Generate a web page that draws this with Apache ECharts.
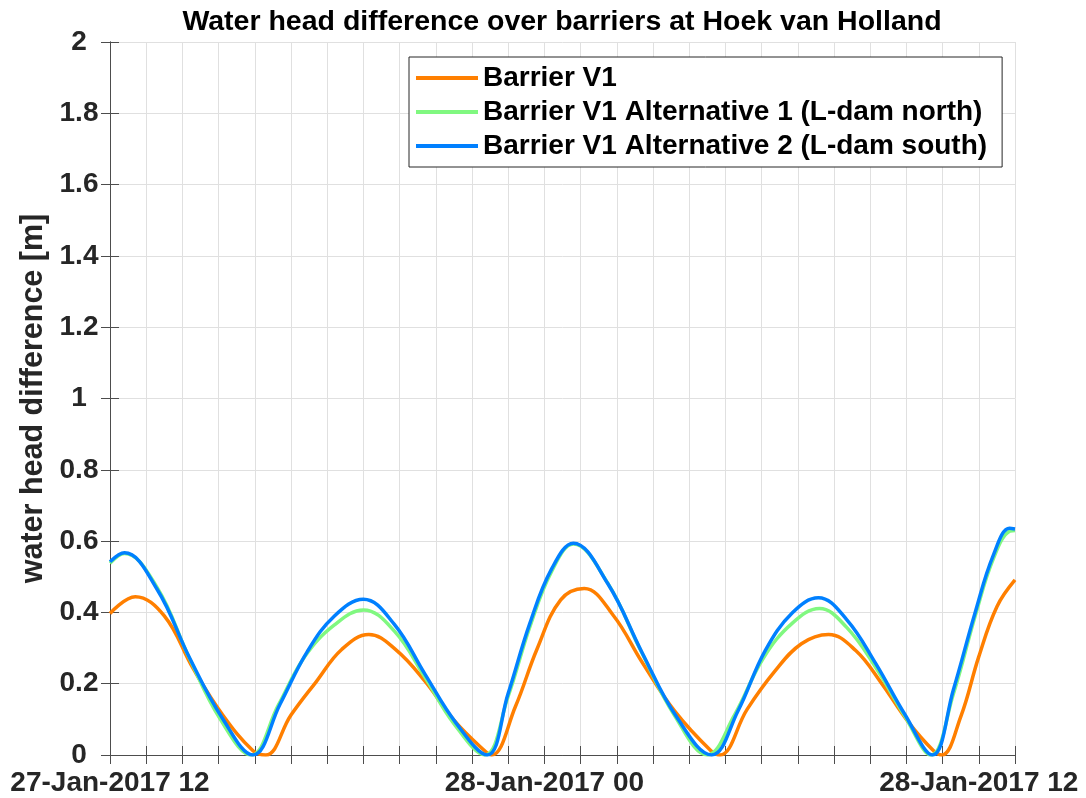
<!DOCTYPE html>
<html>
<head>
<meta charset="utf-8">
<script src="https://cdn.jsdelivr.net/npm/echarts@6/dist/echarts.min.js"></script>
<style>
  html, body { margin: 0; padding: 0; background: #fff; }
  #chart { width: 1086px; height: 798px; }
</style>
</head>
<body>
<div id="chart"></div>
<script>
// hours after 27-Jan-2017 12:00
const tickLabels = { 0: "27-Jan-2017 12", 12: "28-Jan-2017 00", 24: "28-Jan-2017 12" };
const seriesNames = [
  "Barrier V1",
  "Barrier V1 Alternative 1 (L-dam north)",
  "Barrier V1 Alternative 2 (L-dam south)"
];

const timesV1 = [0, 0.7, 1.5, 2.3, 3.1, 3.95, 4.3, 5.0, 5.7, 6.4, 7.15, 7.9, 8.7, 9.5, 10.35, 10.55, 11.2, 11.8, 12.45, 13.1, 13.9, 14.7, 15.6, 16.6, 16.85, 17.6, 18.35, 19.1, 19.85, 20.6, 21.3, 22.05, 22.75, 22.98, 23.5, 24, 24.5, 25];
const valuesV1 = [0.397, 0.444, 0.39, 0.242, 0.114, 0.012, 0, 0.112, 0.206, 0.296, 0.338, 0.295, 0.207, 0.098, 0.012, 0, 0.136, 0.298, 0.435, 0.467, 0.392, 0.26, 0.123, 0.012, 0, 0.128, 0.233, 0.312, 0.338, 0.293, 0.203, 0.093, 0.012, 0, 0.107, 0.276, 0.416, 0.491];

const timesAlt1 = [0, 0.4, 1.3, 2.2, 3.05, 3.9, 4.65, 5.4, 6.2, 7.0, 7.85, 8.7, 9.5, 10.35, 11.0, 11.6, 12.2, 12.8, 13.75, 14.65, 15.6, 16.5, 17.25, 18.05, 18.85, 19.6, 20.35, 21.15, 21.95, 22.68, 23.3, 23.9, 24.4, 24.85, 25];
const valuesAlt1 = [0.538, 0.565, 0.47, 0.27, 0.10, 0, 0.14, 0.279, 0.365, 0.407, 0.348, 0.218, 0.088, 0, 0.165, 0.36, 0.515, 0.592, 0.482, 0.295, 0.11, 0, 0.112, 0.272, 0.37, 0.411, 0.358, 0.246, 0.11, 0, 0.172, 0.39, 0.55, 0.628, 0.63];

const timesAlt2 = [0, 0.4, 1.3, 2.2, 3.1, 3.95, 4.7, 5.45, 6.2, 7.0, 7.85, 8.7, 9.55, 10.42, 11.0, 11.6, 12.2, 12.8, 13.75, 14.7, 15.65, 16.62, 17.35, 18.1, 18.85, 19.57, 20.35, 21.15, 21.95, 22.72, 23.3, 23.9, 24.4, 24.85, 25];
const valuesAlt2 = [0.542, 0.567, 0.465, 0.272, 0.104, 0, 0.143, 0.29, 0.39, 0.437, 0.367, 0.227, 0.091, 0, 0.173, 0.37, 0.522, 0.594, 0.481, 0.287, 0.107, 0, 0.124, 0.293, 0.399, 0.441, 0.38, 0.257, 0.115, 0, 0.184, 0.40, 0.56, 0.636, 0.634];

const colors = ["#ff7f00", "#80f880", "#0080ff"];

function pairs(ts, vs) {
  return ts.map((t, i) => [t, vs[i]]);
}

const chart = echarts.init(document.getElementById("chart"));
const font = "'Liberation Sans', Arial, Helvetica, sans-serif";
const axisColor = "#4d4d4d";
const gridColor = "#e0e0e0";

const option = {
  animation: false,
  backgroundColor: "#fff",
  title: {
    text: "Water head difference over barriers at Hoek van Holland",
    left: 557,
    textAlign: "center",
    top: 3,
    textStyle: { fontFamily: font, fontSize: 28.5, fontWeight: "bold", color: "#000" }
  },
  legend: {
    data: seriesNames,
    orient: "vertical",
    left: 409,
    top: 57,
    padding: [6, 15, 6, 7],
    icon: "rect",
    itemWidth: 62,
    itemHeight: 4,
    itemGap: 4,
    backgroundColor: "#fff",
    borderColor: "#262626",
    borderWidth: 1,
    borderRadius: 0,
    textStyle: { fontFamily: font, fontSize: 28, fontWeight: "bold", color: "#000", lineHeight: 30 }
  },
  grid: { left: 110, right: 71, top: 42, bottom: 43, containLabel: false },
  xAxis: [
    {
      type: "value", min: 0, max: 25, interval: 1,
      axisLine: { show: true, lineStyle: { color: axisColor, width: 1 } },
      axisTick: { inside: true, length: 9, lineStyle: { color: axisColor } },
      axisLabel: {
        margin: 14,
        fontFamily: font, fontSize: 28, fontWeight: "bold", color: "#262626",
        formatter: v => tickLabels[v] || ""
      },
      splitLine: { show: true, lineStyle: { color: gridColor, width: 1 } }
    },
    {
      type: "value", min: 0, max: 25, interval: 1, position: "top",
      axisLine: { show: true, lineStyle: { color: axisColor, width: 1 } },
      axisTick: { inside: true, length: 9, lineStyle: { color: axisColor } },
      axisLabel: { show: false },
      splitLine: { show: false }
    }
  ],
  yAxis: [
    {
      type: "value", min: 0, max: 2, interval: 0.2,
      name: "water head difference [m]",
      nameLocation: "middle",
      nameGap: 47,
      nameTextStyle: { fontFamily: font, fontSize: 30.5, fontWeight: "bold", color: "#262626" },
      axisLine: { show: true, lineStyle: { color: axisColor, width: 1 } },
      axisTick: { inside: true, length: 9, lineStyle: { color: axisColor } },
      axisLabel: {
        margin: 31,
        align: "center",
        fontFamily: font, fontSize: 28, fontWeight: "bold", color: "#262626",
        formatter: v => String(Math.round(v * 10) / 10)
      },
      splitLine: { show: true, lineStyle: { color: gridColor, width: 1 } }
    },
    {
      type: "value", min: 0, max: 2, interval: 0.2, position: "right",
      axisLine: { show: true, lineStyle: { color: axisColor, width: 1 } },
      axisTick: { inside: true, length: 9, lineStyle: { color: axisColor } },
      axisLabel: { show: false },
      splitLine: { show: false }
    }
  ],
  series: [
    { name: seriesNames[0], data: pairs(timesV1, valuesV1), color: colors[0] },
    { name: seriesNames[1], data: pairs(timesAlt1, valuesAlt1), color: colors[1] },
    { name: seriesNames[2], data: pairs(timesAlt2, valuesAlt2), color: colors[2] }
  ].map(s => Object.assign({
    type: "line",
    xAxisIndex: 0,
    yAxisIndex: 0,
    symbol: "none",
    smooth: 0.4,
    lineStyle: { width: 3.5 }
  }, s))
};

chart.setOption(option);
</script>
</body>
</html>
